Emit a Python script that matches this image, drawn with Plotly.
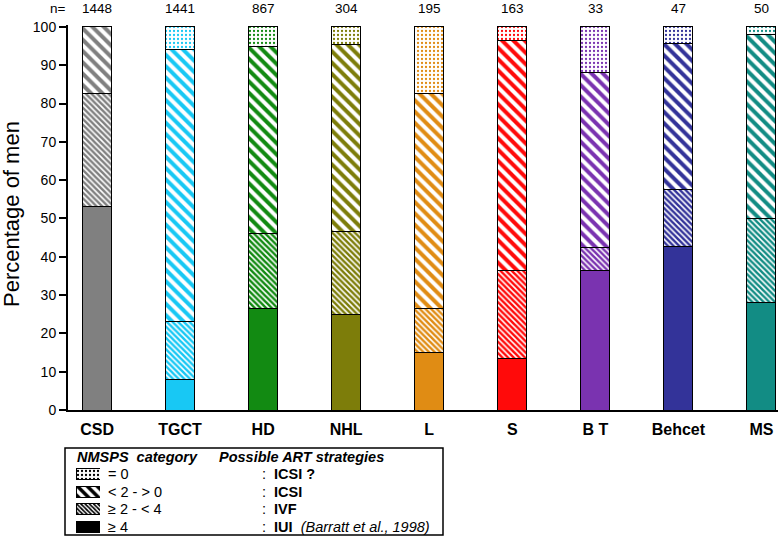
import plotly.graph_objects as go

categories = ["CSD", "TGCT", "HD", "NHL", "L", "S", "B T", "Behcet", "MS"]
n_values = ["1448", "1441", "867", "304", "195", "163", "33", "47", "50"]
bar_colors = ["#808080", "#18c8f4", "#128a12", "#7d7d0a", "#e08c14",
              "#ff0a0a", "#7a33b0", "#333399", "#128c84"]

# NMSPS categories (stacked bottom -> top), percentage of men
ge4 = [53.0, 8.0, 26.5, 25.0, 15.0, 13.5, 36.4, 42.6, 28.0]
ge2_lt4 = [29.5, 15.0, 19.5, 21.5, 11.5, 23.0, 6.1, 14.9, 22.0]
lt2_gt0 = [17.5, 71.0, 49.0, 49.0, 56.0, 60.0, 45.5, 38.3, 48.0]
eq0 = [0.0, 6.0, 5.0, 4.5, 17.5, 3.5, 12.0, 4.2, 2.0]

y_ticks = [0, 10, 20, 30, 40, 50, 60, 70, 80, 90, 100]

legend_labels = ["= 0", "< 2 - > 0", "\u2265 2 - < 4", "\u2265 4"]
legend_strategies = ["ICSI ?", "ICSI", "IVF", "IUI"]
legend_shapes = [".", "\\", "\\", ""]
legend_sizes = [4, 7, 3, 8]
legend_solidity = [0.25, 0.5, 0.55, 1.0]

W, H = 778, 540
FONT = "Liberation Sans, Arial, sans-serif"


def px_x(p):
    return p / W


def px_y(p):
    return (H - p) / H


x_idx = list(range(len(categories)))

fig = go.Figure()

series = [
    (ge4, "", 8, 1.0),
    (ge2_lt4, "\\", 4, 0.62),
    (lt2_gt0, "\\", 8, 0.5),
    (eq0, ".", 4, 0.25),
]
for vals, shape, size, sol in series:
    pattern = dict(shape=shape, fgcolor=bar_colors, bgcolor="white",
                   size=size, solidity=sol, fillmode="replace")
    if shape == "":
        pattern = dict(shape="")
    fig.add_trace(go.Bar(
        x=x_idx, y=vals, width=0.35,
        marker=dict(color=bar_colors, pattern=pattern,
                    line=dict(color="black", width=1)),
        showlegend=False, hoverinfo="skip",
        xaxis="x", yaxis="y",
    ))

# legend swatches
for i in range(4):
    if legend_shapes[i] == "":
        pat = dict(shape="")
    else:
        pat = dict(shape=legend_shapes[i], fgcolor="black", bgcolor="white",
                   size=legend_sizes[i], solidity=legend_solidity[i],
                   fillmode="replace")
    fig.add_trace(go.Bar(
        y=[i], x=[1], orientation="h", width=0.62,
        marker=dict(color="black", pattern=pat,
                    line=dict(color="black", width=1)),
        showlegend=False, hoverinfo="skip",
        xaxis="x2", yaxis="y2",
    ))

fig.update_layout(
    width=W, height=H,
    margin=dict(l=0, r=0, t=0, b=0, pad=0, autoexpand=False),
    paper_bgcolor="white", plot_bgcolor="white",
    barmode="stack",
    font=dict(family=FONT, color="black"),
    xaxis=dict(
        domain=[px_x(68), 1.0], range=[-0.35, 8.2],
        tickvals=x_idx, ticktext=categories,
        tickfont=dict(size=16, weight="bold"), ticklabelstandoff=4,
        showline=True, linecolor="black", linewidth=2,
        ticks="", showgrid=False, zeroline=False,
        anchor="y", automargin=False,
    ),
    yaxis=dict(
        domain=[px_y(410), px_y(25)], range=[0, 100.5],
        tickvals=y_ticks, tickfont=dict(size=14),
        showline=True, linecolor="black", linewidth=2,
        ticks="outside", ticklen=7, tickwidth=2, tickcolor="black",
        showgrid=False, zeroline=False, anchor="x", automargin=False,
    ),
    xaxis2=dict(domain=[px_x(76), px_x(100)], range=[0, 1], visible=False,
                anchor="y2", automargin=False),
    yaxis2=dict(domain=[px_y(536), px_y(465)], range=[3.5, -0.5],
                visible=False, anchor="x2", automargin=False),
)

annotations = []
annotations.append(dict(
    x=px_x(12), y=px_y(214), xref="paper", yref="paper",
    text="Percentage of men", textangle=-90, showarrow=False,
    font=dict(size=22), xanchor="center", yanchor="middle",
))
annotations.append(dict(
    x=px_x(67), y=1.0, xref="paper", yref="paper", text="n=",
    showarrow=False, font=dict(size=13.5), xanchor="right", yanchor="top",
    borderpad=0,
))
for i, n in enumerate(n_values):
    annotations.append(dict(
        x=i, y=1.0, xref="x", yref="paper", text=n, showarrow=False,
        font=dict(size=13.5), xanchor="center", yanchor="top", borderpad=0,
    ))
annotations.append(dict(
    x=px_x(75), y=px_y(457), xref="paper", yref="paper",
    text="<b><i>NMSPS  category</i></b>", showarrow=False,
    font=dict(size=14.5), xanchor="left", yanchor="middle",
))
annotations.append(dict(
    x=px_x(217), y=px_y(457), xref="paper", yref="paper",
    text="<b><i>Possible ART strategies</i></b>", showarrow=False,
    font=dict(size=14.5), xanchor="left", yanchor="middle",
))
for i in range(4):
    annotations.append(dict(
        x=px_x(106), y=i, xref="paper", yref="y2",
        text=legend_labels[i], showarrow=False,
        font=dict(size=14.5), xanchor="left", yanchor="middle",
    ))
    extra = "  <i>(Barratt et al., 1998)</i>" if i == 3 else ""
    annotations.append(dict(
        x=px_x(260), y=i, xref="paper", yref="y2",
        text=":  <b>" + legend_strategies[i] + "</b>" + extra,
        showarrow=False, font=dict(size=14.5), xanchor="left",
        yanchor="middle",
    ))
fig.update_layout(annotations=annotations)

fig.add_shape(type="rect", xref="paper", yref="paper",
              x0=px_x(65), x1=px_x(443), y0=px_y(535), y1=px_y(448),
              line=dict(color="black", width=1.5), fillcolor="rgba(0,0,0,0)")

post = """
var d=document.documentElement, b=document.body;
d.style.margin='0'; d.style.padding='0'; d.style.overflow='hidden';
b.style.margin='0'; b.style.padding='0'; b.style.overflow='hidden';
"""

fig.write_html("out.html", config={"displayModeBar": False}, post_script=post)
